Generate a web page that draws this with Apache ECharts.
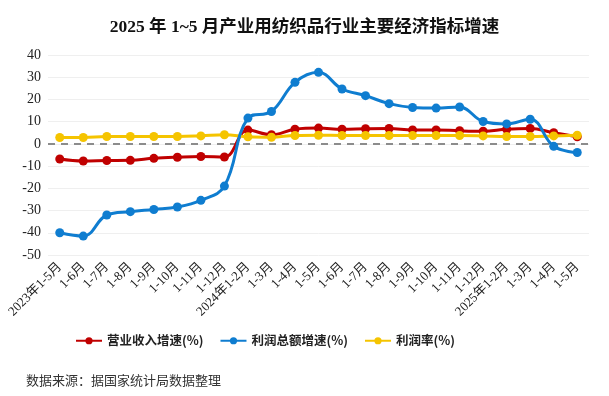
<!DOCTYPE html>
<html><head><meta charset="utf-8">
<script src="https://cdn.jsdelivr.net/npm/echarts@6/dist/echarts.min.js"></script>
<style>html,body{margin:0;padding:0;background:#fff}#c{width:609px;height:396px}</style>
</head><body><div id="c"></div>
<script>
const categories = ['2023年1-5月','1-6月','1-7月','1-8月','1-9月','1-10月','1-11月','1-12月','2024年1-2月','1-3月','1-4月','1-5月','1-6月','1-7月','1-8月','1-9月','1-10月','1-11月','1-12月','2025年1-2月','1-3月','1-4月','1-5月'];
const revenueGrowth = [-6.8,-7.7,-7.5,-7.4,-6.5,-6.0,-5.7,-5.9,6.2,4.1,6.6,7.1,6.6,6.8,6.9,6.3,6.3,5.9,5.7,6.6,6.9,5.0,3.2];
const profitGrowth = [-40.0,-41.5,-32.0,-30.5,-29.5,-28.4,-25.4,-19.0,11.6,14.6,27.7,32.2,24.7,21.7,18.1,16.4,16.1,16.6,10.1,9.0,11.1,-1.1,-3.9];
const profitMargin = [2.9,2.9,3.3,3.3,3.3,3.3,3.6,4.1,3.2,3.0,3.8,3.9,3.8,3.8,3.8,3.8,3.8,3.8,3.6,3.3,3.3,3.6,3.9];
const yTicks = [-50,-40,-30,-20,-10,0,10,20,30,40];
const names = ['营业收入增速(%)','利润总额增速(%)','利润率(%)'];
const colors = ['#C00000','#0F7DD0','#F5C400'];

const chart = echarts.init(document.getElementById('c'));
const serif = '"Liberation Serif","Times New Roman","Noto Sans CJK SC",serif';
function mk(i, data, z){
  return {name:names[i], type:'line', data:data, smooth:0.4, symbol:'circle', symbolSize:9,
    lineStyle:{width:3,color:colors[i]}, itemStyle:{color:colors[i]}, z:z};
}
const s0 = mk(0, revenueGrowth, 3);
s0.markLine = {silent:true, symbol:'none', label:{show:false},
  lineStyle:{color:'#8c8c8c', type:[7,6], width:2}, data:[{yAxis:0}], z:1};
chart.setOption({
  animation:false,
  title:{text:'2025 年 1~5 月产业用纺织品行业主要经济指标增速', left:'center', top:14,
    textStyle:{fontFamily:serif, fontWeight:'bold', fontSize:17.5, color:'#111'}},
  grid:{left:48, right:20, top:55, bottom:141},
  legend:{data:names, bottom:44, left:70, itemWidth:26, itemHeight:9, itemGap:16,
    textStyle:{fontFamily:'"Noto Sans CJK SC",sans-serif', fontWeight:'bold', fontSize:12.5, color:'#222'}},
  xAxis:{type:'category', data:categories, boundaryGap:true,
    axisLine:{show:false}, axisTick:{show:false},
    axisLabel:{rotate:45, interval:0, fontFamily:serif, fontSize:13, color:'#222', margin:10}},
  yAxis:{type:'value', min:-50, max:40, interval:10,
    axisLine:{show:false}, axisTick:{show:false},
    axisLabel:{fontFamily:serif, fontSize:14, color:'#222', margin:7,
      formatter:v=>yTicks.includes(v)?String(v):''},
    splitLine:{lineStyle:{color:'#efefef', width:1}}},
  series:[s0, mk(1, profitGrowth, 5), mk(2, profitMargin, 4)],
  graphic:[{type:'text', left:26, top:374,
    style:{text:'数据来源：据国家统计局数据整理', fontFamily:'"Noto Sans CJK SC",serif', fontSize:13, fill:'#333'}}]
});
</script></body></html>
